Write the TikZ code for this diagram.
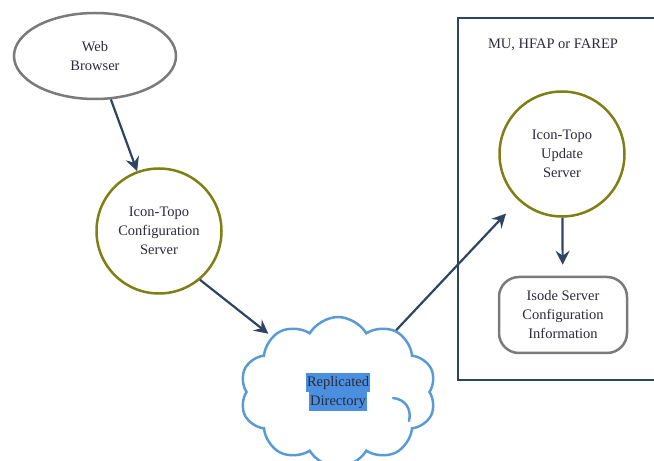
\documentclass[tikz,border=0pt]{standalone}
\usepackage{fontspec}
\setmainfont{Liberation Serif}
\usepackage{xcolor}
\usetikzlibrary{shapes,arrows,positioning,calc,arrows.meta}
\definecolor{olivering}{HTML}{7F7F14}
\definecolor{greyring}{HTML}{7A7A7A}
\definecolor{arrowblue}{HTML}{2E4562}
\definecolor{cloudblue}{HTML}{5B9BD5}
\definecolor{markblue}{HTML}{4A8FE0}
\definecolor{inktext}{HTML}{2B2B3A}
\newcommand{\markline}[1]{\colorbox{markblue}{\strut\kern1pt #1\kern1pt}}
\begin{document}
\begin{tikzpicture}[x=1pt, y=1pt,
    font=\fontsize{14.5}{19}\selectfont, text=inktext,
    every node/.style={align=center, inner sep=0pt},
    ellnode/.style={ellipse, draw=greyring, line width=2.5pt, minimum width=162, minimum height=86},
    srvnode/.style={circle, draw=olivering, line width=2.5pt, minimum size=125},
    infonode/.style={rectangle, rounded corners=20pt, draw=greyring, line width=2.5pt, minimum width=128, minimum height=76},
    arr/.style={-{Stealth[length=14pt, width=14pt, inset=5pt]}, arrowblue, line width=2.2pt}]
    \clip (0,0) rectangle (654,461);
    \setlength{\fboxsep}{0pt}

    % Left side
    \node[ellnode] (browser) at (95,405) {Web\\Browser};
    \node[srvnode] (config) at (159,230) {Icon-Topo\\Configuration\\Server};

    % Directory
    \node[cloud, cloud puffs=10, cloud puff arc=120, aspect=1.35, draw=cloudblue, line width=2.5pt,
          minimum width=196, minimum height=150] (dir) at (338,69)
          {\markline{Replicated}\\\markline{Directory}};
    \draw[cloudblue, line width=2.5pt, line cap=round] (393,63) .. controls (405,62) and (412,52) .. (409,40);

    % Site box
    \node[draw=arrowblue, line width=2.2pt, minimum width=206, minimum height=362] (site) at (561,262) {};
    \node (sitename) at (553,416) {MU, HFAP or FAREP};
    \node[srvnode] (update) at (562,307) {Icon-Topo\\Update\\Server};
    \node[infonode] (isode) at (563,146) {Isode Server\\Configuration\\Information};

    % Links
    \draw[arr] (browser) -- (config);
    \draw[arr, shorten >=4pt] (config.-50) -- (dir.140);
    \draw[arr, shorten >=18pt] (dir) -- (update);
    \draw[arr, shorten >=11pt] (update) -- (isode);
\end{tikzpicture}
\end{document}
